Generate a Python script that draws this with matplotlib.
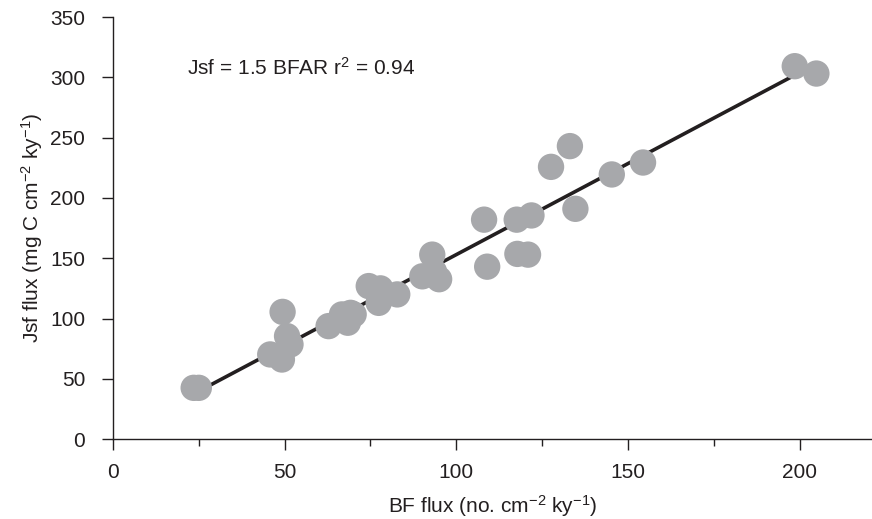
import matplotlib
matplotlib.use("Agg")
import matplotlib.pyplot as plt
import numpy as np
from matplotlib.ticker import MultipleLocator

plt.rcParams['font.family'] = ['Liberation Sans', 'DejaVu Sans']
plt.rcParams['mathtext.fontset'] = 'custom'
plt.rcParams['mathtext.rm'] = 'Liberation Sans'
plt.rcParams['mathtext.it'] = 'Liberation Sans'
plt.rcParams['mathtext.default'] = 'regular'

bf_flux = [23.5, 25, 45.8, 49.2, 49.4, 50.7, 51.7, 62.8, 66.7, 68.4, 69.2, 70.1,
           74.5, 77.9, 77.4, 82.8, 90.1, 93, 93.5, 95, 108.1, 109, 117.6, 117.8,
           120.9, 121.9, 127.6, 133.1, 134.7, 145.3, 154.4, 198.6, 204.9]
jsf_flux = [42.5, 42.5, 70.2, 66, 105.5, 85.4, 78.5, 93.7, 103.4, 96.5, 104.7, 103.4,
            126.9, 125, 113, 120, 135, 153, 139, 132.6, 182, 143, 182, 153.6,
            153, 185.5, 225.8, 243, 191, 219.5, 229.4, 309.3, 303.2]

fit_x = [24, 200]
fit_slope = 1.51
fit_intercept = 2.0

fig = plt.figure(figsize=(8.72, 5.19), dpi=100)
ax = fig.add_axes([0.1296, 0.154, 0.870, 0.813])

fx = np.array(fit_x)
ax.plot(fx, fit_slope * fx + fit_intercept, color='#231f20', lw=2.6, zorder=2,
        solid_capstyle='butt')
ax.scatter(bf_flux, jsf_flux, s=360, color='#a7a8ab', edgecolors='none', zorder=3)

ax.set_xlim(0, 221)
ax.set_ylim(0, 350)
ax.xaxis.set_major_locator(MultipleLocator(50))
ax.xaxis.set_minor_locator(MultipleLocator(25))
ax.yaxis.set_major_locator(MultipleLocator(50))

for s in ['top', 'right']:
    ax.spines[s].set_visible(False)
for s in ['left', 'bottom']:
    ax.spines[s].set_linewidth(1.0)
    ax.spines[s].set_color('#231f20')

ax.tick_params(axis='y', which='major', direction='out', length=8, width=1,
               pad=12, labelsize=15, colors='#231f20')
ax.tick_params(axis='x', which='major', direction='out', length=8, width=1,
               pad=9, labelsize=15, colors='#231f20')
ax.tick_params(axis='x', which='minor', direction='out', length=5, width=1,
               colors='#231f20')

ax.set_xlabel('BF flux (no. cm$^{-2}$ ky$^{-1}$)', fontsize=15, color='#231f20',
              labelpad=8)
ax.set_ylabel('Jsf flux (mg C cm$^{-2}$ ky$^{-1}$)', fontsize=15, color='#231f20',
              labelpad=4)

ax.text(21.6, 307.6, 'Jsf = 1.5 BFAR r$^{2}$ = 0.94', fontsize=15, color='#231f20',
        va='center', ha='left')

fig.savefig('out.png', dpi=100)
